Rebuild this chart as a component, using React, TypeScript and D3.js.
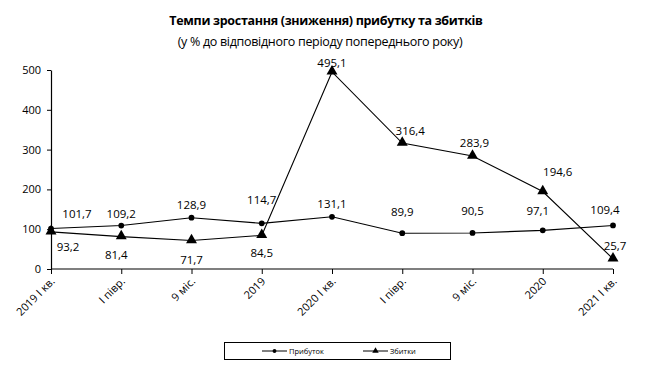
import React, { useEffect, useRef } from 'react'
import * as d3 from 'd3'

// categories (x axis)
const categories = ['2019 I кв.', 'I півр.', '9 міс.', '2019', '2020 I кв.', 'I півр.', '9 міс.', '2020', '2021 I кв.']
// series values, %
const profit = [101.7, 109.2, 128.9, 114.7, 131.1, 89.9, 90.5, 97.1, 109.4]
const losses = [93.2, 81.4, 71.7, 84.5, 495.1, 316.4, 283.9, 194.6, 25.7]
const yTicks = [0, 100, 200, 300, 400, 500]

// label nudges [dx, dy] relative to the point (layout only)
const profitLabelShift = [[26, -15], [0, -12], [0, -13], [0, -23], [0, -13], [0, -21], [0, -22], [-5, -19], [-8, -15]]
const lossLabelShift = [[17, 15], [-5, 18], [0, 20], [0, 18], [0, -9], [8, -12], [2, -13], [15, -20], [2, -13]]

const fmt = (v: number) => String(v).replace('.', ',')

export default function App() {
  const ref = useRef<SVGSVGElement>(null)

  useEffect(() => {
    const svg = d3.select(ref.current)
    svg.selectAll('*').remove()

    const font = 'Open Sans, sans-serif'

    const x = d3.scalePoint<number>()
      .domain(d3.range(categories.length))
      .range([51, 613])
    const y = d3.scaleLinear().domain([0, 500]).range([269, 70])

    // title
    svg.append('text')
      .attr('x', 326).attr('y', 25)
      .attr('text-anchor', 'middle')
      .style('font-family', font).style('font-size', '12.5px').style('font-weight', 'bold')
      .style('letter-spacing', '-0.3px')
      .text('Темпи зростання (зниження) прибутку та збитків')
    svg.append('text')
      .attr('x', 320).attr('y', 46)
      .attr('text-anchor', 'middle')
      .style('font-family', font).style('font-size', '12.5px')
      .style('letter-spacing', '-0.3px')
      .text('(у % до відповідного періоду попереднього року)')

    // y axis
    const yAxis = svg.append('g')
      .attr('transform', 'translate(51,0)')
      .call(d3.axisLeft(y).tickValues(yTicks).tickSize(4).tickPadding(6).tickSizeOuter(0))
    yAxis.select('.domain').attr('stroke', '#000').attr('stroke-width', 1.2)
    yAxis.selectAll('text').style('font-family', font).style('font-size', '11px').attr('fill', '#000')

    // x axis
    const xAxis = svg.append('g')
      .attr('transform', 'translate(0,269)')
      .call(d3.axisBottom(x).tickFormat((i) => categories[i as number]).tickSize(5).tickSizeOuter(0))
    xAxis.select('.domain').attr('stroke', '#000').attr('stroke-width', 1.2)
      .attr('d', 'M51,0H613')
    xAxis.selectAll('.tick text')
      .style('font-family', font).style('font-size', '11px').attr('fill', '#000')
      .attr('text-anchor', 'end')
      .attr('dy', null).attr('y', null)
      .attr('transform', 'translate(4,13) rotate(-45)')

    const line = d3.line<number>().x((_, i) => x(i)!).y((d) => y(d))

    const drawSeries = (vals: number[], marker: 'circle' | 'triangle', shift: number[][]) => {
      svg.append('path')
        .attr('d', line(vals))
        .attr('fill', 'none').attr('stroke', '#000').attr('stroke-width', 1.1)
      const sym = d3.symbol().type(marker === 'circle' ? d3.symbolCircle : d3.symbolTriangle)
        .size(marker === 'circle' ? 26 : 52)
      svg.append('g').selectAll('path')
        .data(vals).enter().append('path')
        .attr('d', sym)
        .attr('transform', (d, i) => `translate(${x(i)},${y(d) + (marker === 'triangle' ? -0.5 : 0)})`)
        .attr('fill', '#000')
      svg.append('g').selectAll('text')
        .data(vals).enter().append('text')
        .attr('x', (d, i) => x(i)! + shift[i][0])
        .attr('y', (d, i) => y(d) + shift[i][1])
        .attr('dy', '0.35em')
        .attr('text-anchor', 'middle')
        .style('font-family', font).style('font-size', '11.5px')
        .text((d) => fmt(d))
    }

    drawSeries(profit, 'circle', profitLabelShift)
    drawSeries(losses, 'triangle', lossLabelShift)

    // legend
    const lg = svg.append('g')
    lg.append('rect').attr('x', 224.5).attr('y', 342.5).attr('width', 226).attr('height', 17)
      .attr('fill', '#fff').attr('stroke', '#000').attr('stroke-width', 1)
    const items = [
      { name: 'Прибуток', x0: 262, type: d3.symbolCircle, size: 12 },
      { name: 'Збитки', x0: 363, type: d3.symbolTriangle, size: 18 },
    ]
    items.forEach((it) => {
      lg.append('line').attr('x1', it.x0).attr('x2', it.x0 + 25).attr('y1', 351).attr('y2', 351)
        .attr('stroke', '#000').attr('stroke-width', 1)
      lg.append('path').attr('d', d3.symbol().type(it.type).size(it.size)())
        .attr('transform', `translate(${it.x0 + 12.5},351)`).attr('fill', '#000')
      lg.append('text').attr('x', it.x0 + 27).attr('y', 351).attr('dy', '0.35em')
        .style('font-family', font).style('font-size', '7.5px')
        .text(it.name)
    })
  }, [])

  return (
    <svg ref={ref} width={649} height={367} style={{ position: 'absolute', left: 0, top: 0, background: '#fff' }} />
  )
}
